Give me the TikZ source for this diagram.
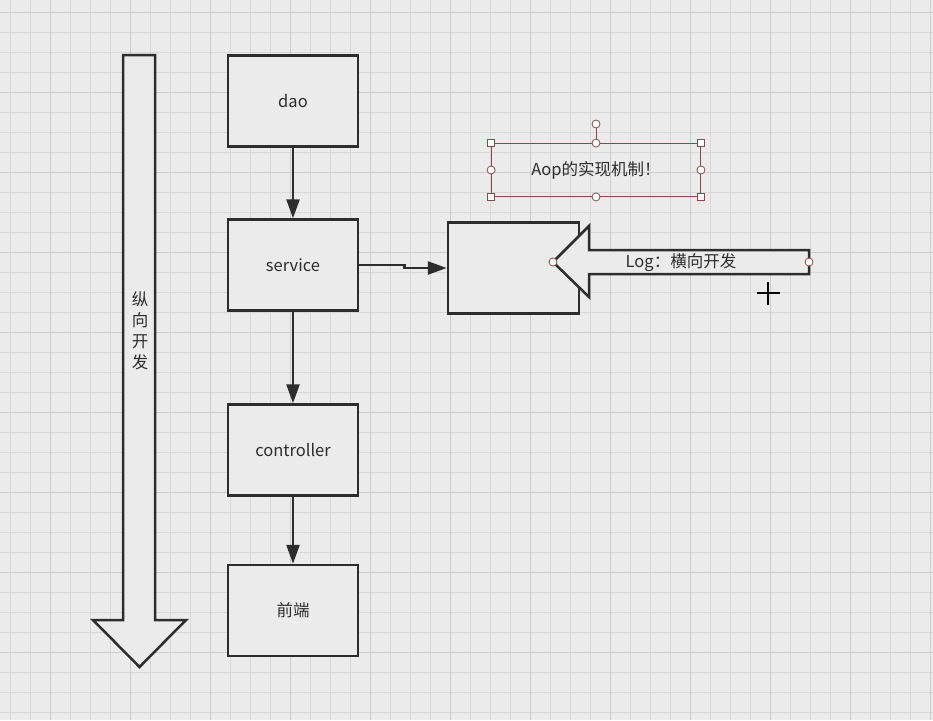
\documentclass[tikz,border=0pt]{standalone}
\usepackage{fontspec}
\setmainfont{Noto Sans CJK SC}
\usepackage{xcolor}
\usetikzlibrary{arrows.meta, positioning, calc}
\definecolor{paperbg}{RGB}{235, 235, 235}
\definecolor{gridline}{RGB}{216, 216, 216}
\definecolor{gridmajor}{RGB}{204, 204, 204}
\definecolor{inkgray}{RGB}{45, 45, 45}
\definecolor{selectred}{RGB}{140, 72, 72}

\tikzset{
  layerbox/.style={draw=inkgray, line width=2.5pt, fill=paperbg,
    minimum width=130pt, minimum height=91pt, inner sep=0pt,
    font=\fontsize{16.5}{19}\selectfont, text=inkgray},
  flowarrow/.style={-{Triangle[length=19pt, width=13pt]},
    line width=2.5pt, draw=inkgray},
  bigarrow/.style={draw=inkgray, line width=2.5pt, fill=paperbg,
    line join=miter},
  roundhandle/.style={circle, draw=selectred, fill=white,
    line width=0.8pt, minimum size=8pt, inner sep=0pt},
  squarehandle/.style={rectangle, draw=selectred, fill=white,
    line width=0.8pt, minimum size=7pt, inner sep=0pt}
}

\begin{document}
\begin{tikzpicture}[x=1pt, y=-1pt]
        % canvas with grid
        \useasboundingbox (0,0) rectangle (933,720);
        \fill[paperbg] (0,0) rectangle (933,720);
        \foreach \gx in {10.7, 30.7, ..., 933}
          \draw[gridline, line width=0.8pt] (\gx,0) -- (\gx,720);
        \foreach \gy in {12.7, 32.7, ..., 720}
          \draw[gridline, line width=0.8pt] (0,\gy) -- (933,\gy);
        \foreach \gx in {50.7, 130.7, ..., 933}
          \draw[gridmajor, line width=0.8pt] (\gx,0) -- (\gx,720);
        \foreach \gy in {12.7, 92.7, ..., 720}
          \draw[gridmajor, line width=0.8pt] (0,\gy) -- (933,\gy);

        % vertical development arrow
        \draw[bigarrow] (123,55) -- (155,55) -- (155,620) -- (186,620)
          -- (139.5,667) -- (93,620) -- (123,620) -- cycle;
        \node[font=\fontsize{16.5}{21}\selectfont, text=inkgray, align=center]
          (vlabel) at (140,331) {纵\\向\\开\\发};

        % layers
        \node[layerbox] (dao) at (293,101) {dao};
        \node[layerbox] (service) at (293,265) {service};
        \node[layerbox] (controller) at (293,450) {controller};
        \node[layerbox] (front) at (293,610.5) {前端};
        \node[layerbox, minimum width=131pt] (logbox) at (513.5,268) {};

        \draw[flowarrow] (dao) -- (service);
        \draw[flowarrow] (service) -- (controller);
        \draw[flowarrow] (controller) -- (front);
        \draw[flowarrow] (service.east) -- ++(45,0) |- (logbox.west);

        % horizontal log arrow
        \coordinate (logtip) at (553,262);
        \coordinate (logtail) at (809,262);
        \draw[bigarrow] (logtail) -- (809,250) -- (589,250) -- (589,226)
          -- (logtip) -- (589,297) -- (589,274) -- (809,274) -- cycle;
        \node[font=\fontsize{16.5}{19}\selectfont, text=inkgray]
          (loglabel) at (681,263) {Log：横向开发};
        \node[roundhandle] at (logtip) {};
        \node[roundhandle] at (logtail) {};

        % selected text box
        \node[draw=selectred, line width=0.8pt, minimum width=209pt,
          minimum height=53pt, font=\fontsize{16.5}{19}\selectfont,
          text=inkgray] (aop) at (596,170) {Aop的实现机制！};
        \node[roundhandle] (rotate) at (596,124) {};
        \draw[selectred, line width=0.8pt] (aop.north) -- (rotate);
        \foreach \corner in {north west, north east, south west, south east}
          \node[squarehandle] at (aop.\corner) {};
        \foreach \side in {north, south, east, west}
          \node[roundhandle] at (aop.\side) {};

        % mouse cursor
        \draw[black, line width=2pt] (757,293) -- (780,293);
        \draw[black, line width=2pt] (768,282) -- (768,305);
      \end{tikzpicture}
\end{document}
